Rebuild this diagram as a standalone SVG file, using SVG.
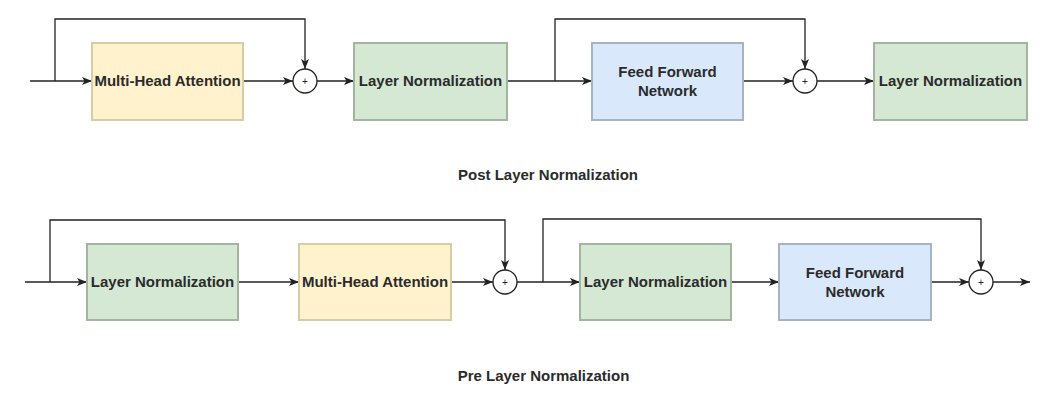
<svg xmlns="http://www.w3.org/2000/svg" width="1055" height="401" viewBox="0 0 1055 401">
<style>
.t{font-family:"Liberation Sans",Arial,sans-serif;font-size:15px;font-weight:bold;fill:#2b2b2b;text-anchor:middle}
.y{fill:#fff2cc;stroke:#d3cfa3;stroke-width:2}
.g{fill:#d5e8d4;stroke:#a3b49f;stroke-width:2}
.b{fill:#dae8fc;stroke:#a6b3c1;stroke-width:2}
.c{fill:#ffffff;stroke:#222;stroke-width:1.3}
.p{font-family:"Liberation Sans",Arial,sans-serif;font-size:10px;fill:#222;text-anchor:middle}
.e{fill:none;stroke:#222;stroke-width:1.3}
.a{marker-end:url(#ah)}
</style>
<defs>
<marker id="ah" markerUnits="userSpaceOnUse" markerWidth="12" markerHeight="10" refX="10" refY="4" orient="auto">
<path d="M0,0 L10,4 L0,8 L2.5,4 Z" fill="#222"/>
</marker>
</defs>
<rect width="1055" height="401" fill="#ffffff"/>
<g id="connectors">
<path class="e a" d="M30,81 H92"/>
<path class="e a" d="M55,81 V19 H305 V69"/>
<path class="e a" d="M243,81 H293"/>
<path class="e a" d="M317,81 H354"/>
<path class="e a" d="M507,81 H592"/>
<path class="e a" d="M555,81 V19 H805 V69"/>
<path class="e a" d="M743,81 H793"/>
<path class="e a" d="M817,81 H874"/>
<path class="e a" d="M25,282 H87"/>
<path class="e a" d="M50,282 V220 H505 V270"/>
<path class="e a" d="M238,282 H299"/>
<path class="e a" d="M451,282 H493"/>
<path class="e a" d="M517,282 H580"/>
<path class="e a" d="M543,282 V219 H981 V270"/>
<path class="e a" d="M731,282 H779"/>
<path class="e a" d="M931,282 H969"/>
<path class="e a" d="M993,282 H1030"/>
</g>
<g id="post-mha"><rect class="y" x="92" y="43" width="151" height="77"/><text class="t" x="167.5" y="86">Multi-Head Attention</text></g>
<g id="post-add1"><circle class="c" cx="305" cy="81" r="12"/><text class="p" x="305" y="84.5">+</text></g>
<g id="post-ln1"><rect class="g" x="354" y="43" width="153" height="77"/><text class="t" x="430.5" y="86">Layer Normalization</text></g>
<g id="post-ffn"><rect class="b" x="592" y="43" width="151" height="77"/><text class="t" x="667.5" y="77">Feed Forward</text><text class="t" x="667.5" y="96">Network</text></g>
<g id="post-add2"><circle class="c" cx="805" cy="81" r="12"/><text class="p" x="805" y="84.5">+</text></g>
<g id="post-ln2"><rect class="g" x="874" y="43" width="153" height="77"/><text class="t" x="950.5" y="86">Layer Normalization</text></g>
<g id="post-label"><text class="t" x="548" y="180">Post Layer Normalization</text></g>
<g id="pre-ln1"><rect class="g" x="87" y="244" width="151" height="76"/><text class="t" x="162.5" y="287">Layer Normalization</text></g>
<g id="pre-mha"><rect class="y" x="299" y="244" width="152" height="76"/><text class="t" x="375" y="287">Multi-Head Attention</text></g>
<g id="pre-add1"><circle class="c" cx="505" cy="282" r="12"/><text class="p" x="505" y="285.5">+</text></g>
<g id="pre-ln2"><rect class="g" x="580" y="244" width="151" height="76"/><text class="t" x="655.5" y="287">Layer Normalization</text></g>
<g id="pre-ffn"><rect class="b" x="779" y="244" width="152" height="76"/><text class="t" x="855" y="278">Feed Forward</text><text class="t" x="855" y="297">Network</text></g>
<g id="pre-add2"><circle class="c" cx="981" cy="282" r="12"/><text class="p" x="981" y="285.5">+</text></g>
<g id="pre-label"><text class="t" x="543.5" y="381">Pre Layer Normalization</text></g>
</svg>
